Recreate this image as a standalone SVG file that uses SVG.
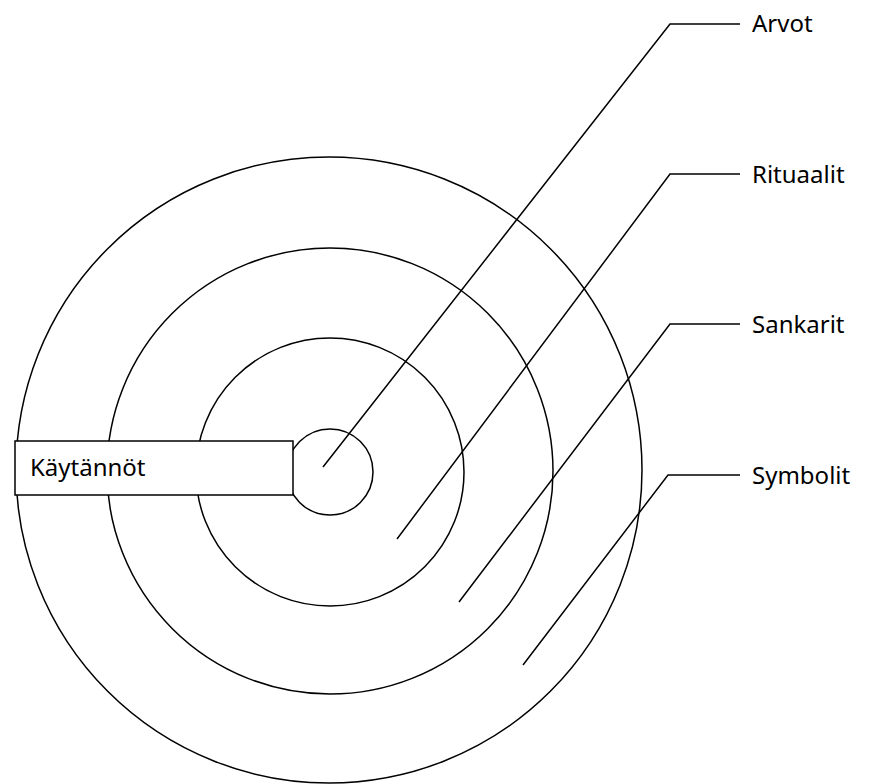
<svg xmlns="http://www.w3.org/2000/svg" width="887" height="784" viewBox="0 0 887 784">
<style>
.c{fill:none;stroke:#000;stroke-width:1.5}
.l{fill:none;stroke:#000;stroke-width:1.5}
.t{font-family:"Noto Sans","Open Sans",sans-serif;font-size:24px;fill:#000}
</style>
<rect width="887" height="784" fill="#fff"/>
<g id="symbolit-ring"><circle class="c" cx="329" cy="470" r="313"/></g>
<g id="sankarit-ring"><circle class="c" cx="330" cy="471" r="223"/></g>
<g id="rituaalit-ring"><circle class="c" cx="330" cy="472" r="134"/></g>
<g id="arvot-core"><circle class="c" cx="330" cy="472" r="43"/></g>
<g id="kaytannot">
<rect x="15" y="441" width="278" height="54" fill="#fff" stroke="#000" stroke-width="1.5"/>
<text class="t" x="30" y="476">Käytännöt</text>
</g>
<g id="connectors">
<polyline class="l" points="323,467 670,24 740,24"/>
<polyline class="l" points="397,539 670,174 740,174"/>
<polyline class="l" points="459,602 670,324 740,324"/>
<polyline class="l" points="523,665 668,475 740,475"/>
</g>
<g id="labels">
<text class="t" x="752" y="32">Arvot</text>
<text class="t" x="752" y="183">Rituaalit</text>
<text class="t" x="752" y="333">Sankarit</text>
<text class="t" x="752" y="484">Symbolit</text>
</g>
</svg>
